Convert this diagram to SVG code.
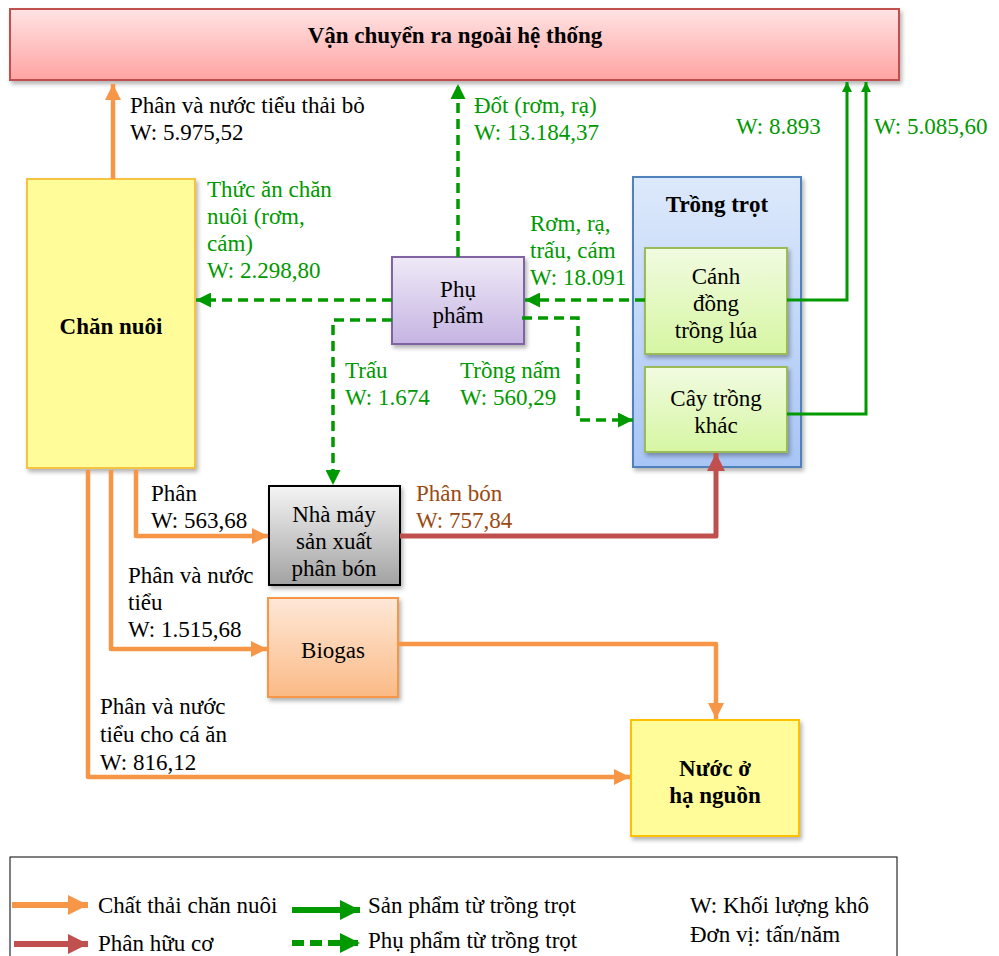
<svg xmlns="http://www.w3.org/2000/svg" width="999" height="956" viewBox="0 0 999 956">
<defs>
<linearGradient id="gPink" x1="0" y1="0" x2="0" y2="1"><stop offset="0" stop-color="#ffe3e3"/><stop offset="1" stop-color="#ffa3a3"/></linearGradient>
<linearGradient id="gBlue" x1="0" y1="0" x2="0" y2="1"><stop offset="0" stop-color="#dde9fb"/><stop offset="1" stop-color="#a8c5f6"/></linearGradient>
<linearGradient id="gLime" x1="0" y1="0" x2="0" y2="1"><stop offset="0" stop-color="#f1fbe1"/><stop offset="1" stop-color="#d6f6a2"/></linearGradient>
<linearGradient id="gLav" x1="0" y1="0" x2="0" y2="1"><stop offset="0" stop-color="#efe9f7"/><stop offset="1" stop-color="#c5b4e2"/></linearGradient>
<linearGradient id="gGray" x1="0" y1="0" x2="0" y2="1"><stop offset="0" stop-color="#f5f5f5"/><stop offset="1" stop-color="#a2a2a2"/></linearGradient>
<linearGradient id="gPeach" x1="0" y1="0" x2="0" y2="1"><stop offset="0" stop-color="#fee8d7"/><stop offset="1" stop-color="#fbba86"/></linearGradient>
<filter id="sh" x="-10%" y="-10%" width="130%" height="130%"><feDropShadow dx="2" dy="3" stdDeviation="2" flood-color="#000" flood-opacity="0.3"/></filter>
<marker id="aO" viewBox="0 0 10 10" refX="10" refY="5" markerWidth="16" markerHeight="16" markerUnits="userSpaceOnUse" orient="auto"><path d="M0,0L10,5L0,10z" fill="#f79646"/></marker>
<marker id="aR" viewBox="0 0 10 10" refX="10" refY="5" markerWidth="18" markerHeight="18" markerUnits="userSpaceOnUse" orient="auto"><path d="M0,0L10,5L0,10z" fill="#c0504d"/></marker>
<marker id="aG" viewBox="0 0 10 10" refX="10" refY="5" markerWidth="15" markerHeight="15" markerUnits="userSpaceOnUse" orient="auto"><path d="M0,0L10,5L0,10z" fill="#009900"/></marker>
<marker id="aGs" viewBox="0 0 10 10" refX="10" refY="5" markerWidth="10" markerHeight="10" markerUnits="userSpaceOnUse" orient="auto"><path d="M0,0L10,5L0,10z" fill="#009900"/></marker>
<marker id="aOL" viewBox="0 0 10 10" refX="10" refY="5" markerWidth="20" markerHeight="20" markerUnits="userSpaceOnUse" orient="auto"><path d="M0,0L10,5L0,10z" fill="#f79646"/></marker>
<marker id="aRL" viewBox="0 0 10 10" refX="10" refY="5" markerWidth="20" markerHeight="20" markerUnits="userSpaceOnUse" orient="auto"><path d="M0,0L10,5L0,10z" fill="#c0504d"/></marker>
<marker id="aGL" viewBox="0 0 10 10" refX="10" refY="5" markerWidth="20" markerHeight="20" markerUnits="userSpaceOnUse" orient="auto"><path d="M0,0L10,5L0,10z" fill="#009900"/></marker>
</defs>
<style>
text{font-family:"Liberation Serif","Times New Roman",serif;font-size:23px;fill:#000}
.b{font-weight:bold}
.c{text-anchor:middle}
.g{fill:#009900}
.br{fill:#9a4a10}
.o{fill:none;stroke:#f79646;stroke-width:4.5;stroke-linejoin:round}
.r{fill:none;stroke:#c0504d;stroke-width:5;stroke-linejoin:round}
.gd{fill:none;stroke:#009900;stroke-width:3.5;stroke-dasharray:10,6}
.gs{fill:none;stroke:#009900;stroke-width:3}
</style>

<g id="top">
<rect x="10" y="9" width="889" height="71" fill="url(#gPink)" stroke="#c0504d" stroke-width="2" filter="url(#sh)"/>
<text x="455" y="43" class="b c">Vận chuyển ra ngoài hệ thống</text>
</g>

<g id="channuoi">
<rect x="27" y="179" width="168" height="289" fill="#fffc99" stroke="#f5c342" stroke-width="2" filter="url(#sh)"/>
<text x="111" y="334" class="b c">Chăn nuôi</text>
</g>

<g id="trongtrot">
<rect x="633" y="177" width="168" height="290" fill="url(#gBlue)" stroke="#4f81bd" stroke-width="2" filter="url(#sh)"/>
<text x="717" y="212" class="b c">Trồng trọt</text>
</g>

<g id="canhdong">
<rect x="645" y="248" width="142" height="106" fill="url(#gLime)" stroke="#9bbb59" stroke-width="2" filter="url(#sh)"/>
<text x="716" y="284" class="c">Cánh</text>
<text x="716" y="311" class="c">đồng</text>
<text x="716" y="338" class="c">trồng lúa</text>
</g>

<g id="caytrong">
<rect x="645" y="367" width="142" height="85" fill="url(#gLime)" stroke="#9bbb59" stroke-width="2" filter="url(#sh)"/>
<text x="716" y="406" class="c">Cây trồng</text>
<text x="716" y="433" class="c">khác</text>
</g>

<g id="phupham">
<rect x="392" y="257" width="132" height="87" fill="url(#gLav)" stroke="#8064a2" stroke-width="2" filter="url(#sh)"/>
<text x="458" y="297" class="c">Phụ</text>
<text x="458" y="323" class="c">phẩm</text>
</g>

<g id="nhamay">
<rect x="269" y="486" width="131" height="99" fill="url(#gGray)" stroke="#000" stroke-width="2" filter="url(#sh)"/>
<text x="334" y="522" class="c">Nhà máy</text>
<text x="334" y="549" class="c">sản xuất</text>
<text x="334" y="576" class="c">phân bón</text>
</g>

<g id="biogas">
<rect x="268" y="598" width="130" height="99" fill="url(#gPeach)" stroke="#f79646" stroke-width="2" filter="url(#sh)"/>
<text x="333" y="658" class="c">Biogas</text>
</g>

<g id="nuoc">
<rect x="631" y="720" width="168" height="116" fill="#fffc99" stroke="#ffc000" stroke-width="2" filter="url(#sh)"/>
<text x="715" y="776" class="b c">Nước ở</text>
<text x="715" y="803" class="b c">hạ nguồn</text>
</g>

<g id="connectors">
<path class="o" d="M113,179V84" marker-end="url(#aO)"/>
<path class="gd" d="M458,257V84" marker-end="url(#aG)"/>
<path class="gs" d="M787,300H847V82" marker-end="url(#aGs)"/>
<path class="gs" d="M787,414H866V82" marker-end="url(#aGs)"/>
<path class="gd" d="M645,300H525" marker-end="url(#aG)"/>
<path class="gd" d="M392,300H196" marker-end="url(#aG)"/>
<path class="gd" d="M392,320H333V485" marker-end="url(#aG)"/>
<path class="gd" d="M522,318H578V420H633" marker-end="url(#aG)"/>
<path class="r" d="M400,536H716V453" marker-end="url(#aR)"/>
<path class="o" d="M136,470V536H268" marker-end="url(#aO)"/>
<path class="o" d="M111,470V649H267" marker-end="url(#aO)"/>
<path class="o" d="M398,644H716V719" marker-end="url(#aO)"/>
<path class="o" d="M88,470V777H630" marker-end="url(#aO)"/>
</g>

<g id="labels">
<text x="130" y="113">Phân và nước tiểu thải bỏ</text>
<text x="130" y="140">W: 5.975,52</text>
<text x="474" y="113" class="g">Đốt (rơm, rạ)</text>
<text x="474" y="140" class="g">W: 13.184,37</text>
<text x="736" y="134" class="g">W: 8.893</text>
<text x="874" y="134" class="g">W: 5.085,60</text>
<text x="530" y="231" class="g">Rơm, rạ,</text>
<text x="530" y="258" class="g">trấu, cám</text>
<text x="530" y="285" class="g">W: 18.091</text>
<text x="207" y="197" class="g">Thức ăn chăn</text>
<text x="207" y="224" class="g">nuôi (rơm,</text>
<text x="207" y="251" class="g">cám)</text>
<text x="207" y="278" class="g">W: 2.298,80</text>
<text x="345" y="378" class="g">Trấu</text>
<text x="345" y="405" class="g">W: 1.674</text>
<text x="460" y="378" class="g">Trồng nấm</text>
<text x="460" y="405" class="g">W: 560,29</text>
<text x="416" y="501" class="br">Phân bón</text>
<text x="416" y="528" class="br">W: 757,84</text>
<text x="151" y="501">Phân</text>
<text x="151" y="528">W: 563,68</text>
<text x="128" y="583">Phân và nước</text>
<text x="128" y="610">tiểu</text>
<text x="128" y="637">W: 1.515,68</text>
<text x="100" y="714">Phân và nước</text>
<text x="100" y="742">tiểu cho cá ăn</text>
<text x="100" y="770">W: 816,12</text>
</g>

<g id="legend">
<rect x="10" y="857" width="887" height="110" fill="#fff" stroke="#000" stroke-width="1"/>
<path d="M12,905H88" stroke="#f79646" stroke-width="6" marker-end="url(#aOL)"/>
<text x="98" y="913">Chất thải chăn nuôi</text>
<path d="M14,944H88" stroke="#c0504d" stroke-width="6" marker-end="url(#aRL)"/>
<text x="98" y="951">Phân hữu cơ</text>
<path d="M292,910H360" stroke="#009900" stroke-width="6" marker-end="url(#aGL)"/>
<text x="368" y="913">Sản phẩm từ trồng trọt</text>
<path d="M292,943H360" stroke="#009900" stroke-width="6" stroke-dasharray="12,6" marker-end="url(#aGL)"/>
<text x="368" y="948">Phụ phẩm từ trồng trọt</text>
<text x="690" y="913">W: Khối lượng khô</text>
<text x="690" y="942">Đơn vị: tấn/năm</text>
</g>
</svg>
